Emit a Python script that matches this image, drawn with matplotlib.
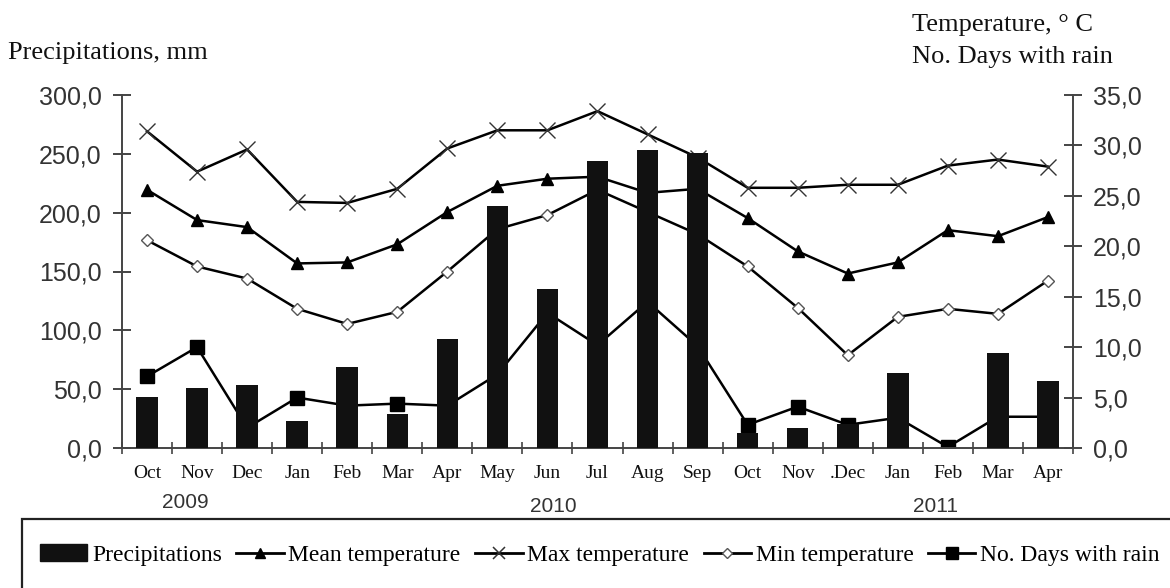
import numpy as np
import matplotlib
matplotlib.use('Agg')
import matplotlib.pyplot as plt
from matplotlib.lines import Line2D
from matplotlib.patches import Patch, Rectangle
from matplotlib.ticker import FixedLocator, FuncFormatter, MultipleLocator
from matplotlib.transforms import blended_transform_factory

SERIF = 'Liberation Serif'
SANS = 'Liberation Sans'

months = ['Oct', 'Nov', 'Dec', 'Jan', 'Feb', 'Mar', 'Apr', 'May', 'Jun', 'Jul',
          'Aug', 'Sep', 'Oct', 'Nov', '.Dec', 'Jan', 'Feb', 'Mar', 'Apr']
years = ['2009', '2010', '2011']

# precipitation in mm (left axis)
precipitation = [43, 51, 53.5, 23, 69, 29, 92.5, 205.5, 135, 244,
                 253, 251, 13, 17, 20, 64, 0, 81, 57]
# temperatures in deg C and rain days (right axis)
mean_temp = [25.6, 22.6, 21.9, 18.3, 18.4, 20.2, 23.4, 26.0, 26.7, 26.9,
             25.3, 25.7, 22.8, 19.5, 17.3, 18.4, 21.6, 21.0, 22.9]
max_temp = [31.4, 27.4, 29.6, 24.4, 24.3, 25.7, 29.7, 31.5, 31.5, 33.4,
            31.1, 28.8, 25.8, 25.8, 26.1, 26.1, 28.0, 28.6, 27.9]
min_temp = [20.6, 18.0, 16.8, 13.8, 12.3, 13.5, 17.5, 21.7, 23.1, 25.6,
            23.4, 21.2, 18.0, 13.9, 9.2, 13.0, 13.8, 13.3, 16.6]
rain_days = [7.1, 10.0, 2.0, 5.0, 4.2, 4.4, 4.2, 7.3, 13.4, 10.2,
             14.5, 10.1, 2.3, 4.1, 2.3, 3.0, 0.1, 3.1, 3.1]


def comma_fmt(v, pos):
    return f'{v:.1f}'.replace('.', ',')


W, H = 1170, 588
fig = plt.figure(figsize=(W / 100, H / 100), dpi=100)
ax_t = fig.add_axes([122 / W, 1 - 448 / H, (1073 - 122) / W, (448 - 95) / H])
ax_p = ax_t.twinx()

x = np.arange(len(months))

# lines on the temperature axis (drawn below the bars)
line_kw = dict(color='black', lw=1.8)
ax_t.plot(x, max_temp, marker='x', ms=11, mew=1.0, mec='#333333', **line_kw)
ax_t.plot(x, mean_temp, marker='^', ms=8.5, mfc='black', mec='black', **line_kw)
ax_t.plot(x, min_temp, marker='D', ms=6, mfc='white', mec='#555555', mew=1, **line_kw)
ax_t.plot(x, rain_days, marker='s', ms=10.5, mfc='black', mec='black', **line_kw)

ax_p.bar(x, precipitation, width=0.43, color='#111111')

ax_t.set_xlim(-0.5, len(months) - 0.5)
ax_t.set_ylim(0, 35)
ax_p.set_ylim(0, 300)

ax_t.yaxis.tick_right()
ax_p.yaxis.tick_left()
ax_t.yaxis.set_major_locator(MultipleLocator(5))
ax_p.yaxis.set_major_locator(MultipleLocator(50))
ax_t.yaxis.set_major_formatter(FuncFormatter(comma_fmt))
ax_p.yaxis.set_major_formatter(FuncFormatter(comma_fmt))

axis_col = '#444444'
for a in (ax_t, ax_p):
    a.spines['top'].set_visible(False)
    for s in a.spines.values():
        s.set_color(axis_col)
        s.set_linewidth(1.4)
    a.tick_params(axis='y', direction='inout', length=13, width=1.4, color=axis_col,
                  pad=8, labelsize=18, labelcolor='#333333')
    for lab in a.get_yticklabels():
        lab.set_family(SANS)
ax_t.spines['left'].set_visible(False)
ax_p.spines['right'].set_visible(False)
ax_p.spines['bottom'].set_visible(False)

ax_t.xaxis.set_major_locator(FixedLocator(x))
ax_t.set_xticklabels(months, family=SERIF, fontsize=14)
ax_t.xaxis.set_minor_locator(FixedLocator(np.arange(-0.5, len(months), 1.0)))
ax_t.tick_params(axis='x', which='major', length=0, pad=12, labelcolor='#111111')
ax_t.tick_params(axis='x', which='minor', direction='inout', length=8, width=1.2, color=axis_col)

# year labels under the months
year_tr = blended_transform_factory(ax_t.transData, fig.transFigure)
for yr, xpos, ypos in zip(years, [0.76, 8.12, 15.76], [502, 507, 507]):
    ax_t.text(xpos, 1 - ypos / H, yr, transform=year_tr, ha='center', va='center',
              family=SANS, fontsize=15, color='#333333')

fig.text(8 / W, 1 - 53 / H, 'Precipitations, mm', family=SERIF, fontsize=19,
         ha='left', va='center', color='#111111')
fig.text(912 / W, 1 - 25 / H, 'Temperature, \u00b0 C', family=SERIF, fontsize=19,
         ha='left', va='center', color='#111111')
fig.text(912 / W, 1 - 57 / H, 'No. Days with rain', family=SERIF, fontsize=19,
         ha='left', va='center', color='#111111')

handles = [
    Patch(facecolor='#111111', edgecolor='#111111'),
    Line2D([], [], color='black', lw=2, marker='^', ms=7, mfc='black'),
    Line2D([], [], color='black', lw=2, marker='x', ms=8, mew=1.1, mec='#333333'),
    Line2D([], [], color='black', lw=2, marker='D', ms=5, mfc='white', mec='#555555'),
    Line2D([], [], color='black', lw=2, marker='s', ms=8, mfc='black'),
]
labels = ['Precipitations', 'Mean temperature', 'Max temperature', 'Min temperature',
          'No. Days with rain']
fig.legend(handles, labels, loc='center left', bbox_to_anchor=(40 / W, 1 - 555 / H),
           ncol=5, frameon=False, prop={'family': SERIF, 'size': 17},
           handlelength=2.0, handletextpad=0.2, columnspacing=0.62, borderpad=0,
           borderaxespad=0)

fig.add_artist(Rectangle((22 / W, -0.2), 1.2, 0.2 + 1 - 519 / H, transform=fig.transFigure,
                         fill=False, lw=1.6, ec='#222222', clip_on=False))

fig.savefig('out.png', dpi=100)
